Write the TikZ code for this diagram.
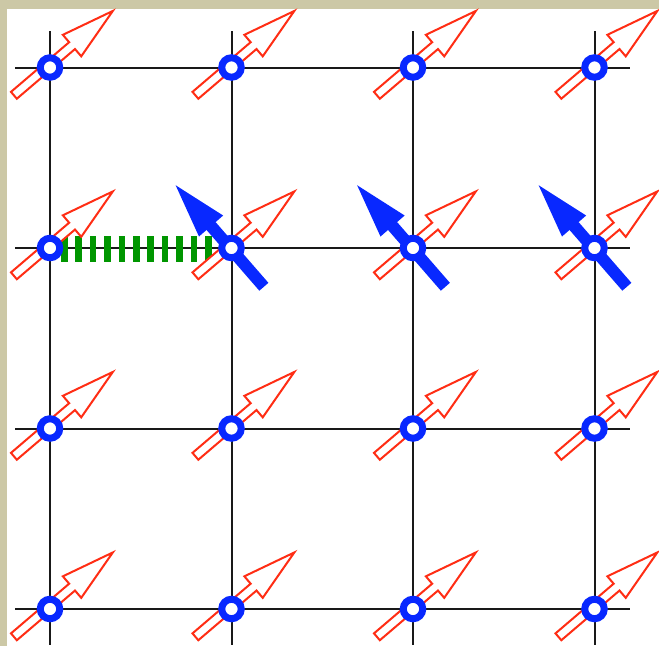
\documentclass[tikz,border=0pt]{standalone}
\definecolor{bg}{RGB}{204,200,166}
\definecolor{spinred}{RGB}{255,45,20}
\definecolor{spinblue}{RGB}{8,40,255}
\definecolor{bondgreen}{RGB}{0,150,0}
\definecolor{gridgray}{RGB}{25,25,25}
\tikzset{
  grid line/.style={line width=2pt, draw=gridgray},
  site/.style={circle, draw=spinblue, line width=7pt, fill=white, minimum size=19.5pt, inner sep=0pt},
  bond/.style={draw=bondgreen, line width=26pt, dash pattern=on 6.5pt off 7.9pt},
  up spin/.pic={\draw[spinred, line width=2pt, fill=white, line join=miter]
      (-45.5,-6.8) -- (31,-6.8) -- (31,-16.5) -- (84.5,-2.2) -- (31,11.8) -- (31,2.2) -- (-45.5,2.2) -- cycle;},
  flip spin/.pic={\fill[spinblue]
      (-50.5,-7) -- (30,-7) -- (30,-17) -- (84,-1) -- (30,15) -- (30,5) -- (-50.5,5) -- cycle;},
}
\begin{document}
\begin{tikzpicture}[x=1pt,y=-1pt]
\useasboundingbox (0,0) rectangle (659,646);
\fill[bg] (0,0) rectangle (659,646);
\fill[white] (7,9) rectangle (659,646);
% lattice points
\foreach \r/\y in {1/67.5,2/248,3/428.5,4/609} {
  \foreach \c/\x in {1/50,2/231.5,3/413,4/594.5} {
    \coordinate (p\c\r) at (\x,\y);
  }
  \coordinate (W\r) at (15,\y);
  \coordinate (E\r) at (630,\y);
}
\foreach \c/\x in {1/50,2/231.5,3/413,4/594.5} {
  \coordinate (N\c) at (\x,31);
  \coordinate (S\c) at (\x,645);
}
% grid
\foreach \r in {1,...,4} \draw[grid line] (W\r) -- (E\r);
\foreach \c in {1,...,4} \draw[grid line] (N\c) -- (S\c);
% bond
\draw[bond, shorten <=11pt, shorten >=19.5pt] ([yshift=-1pt]p12) -- ([yshift=-1pt]p22);
% red spins
\foreach \c in {1,...,4} \foreach \r in {1,...,4} \pic[rotate=40.5] at (p\c\r) {up spin};
% flipped blue spins
\foreach \c in {2,3,4} \pic[rotate=131] at (p\c2) {flip spin};
% sites
\foreach \c in {1,...,4} \foreach \r in {1,...,4} \node[site] (s\c\r) at (p\c\r) {};
\end{tikzpicture}
\end{document}
